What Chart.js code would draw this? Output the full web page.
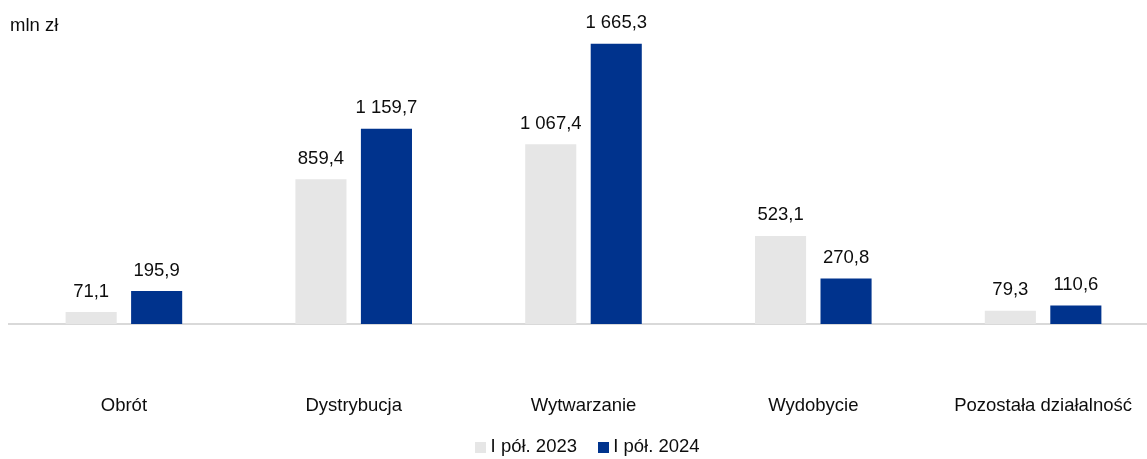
<!DOCTYPE html>
<html>
<head>
<meta charset="utf-8">
<script src="https://cdn.jsdelivr.net/npm/chart.js@4.4.1/dist/chart.umd.min.js"></script>
<style>
  html, body { margin: 0; padding: 0; background: #fff; overflow: hidden; }
  canvas { display: block; }
</style>
</head>
<body>
<canvas id="chart" width="1158" height="459"></canvas>
<script>
const categories = ["Obrót", "Dystrybucja", "Wytwarzanie", "Wydobycie", "Pozostała działalność"];
const series2023 = [71.1, 859.4, 1067.4, 523.1, 79.3];
const series2024 = [195.9, 1159.7, 1665.3, 270.8, 110.6];
const seriesLabels = ["I pół. 2023", "I pół. 2024"];
const seriesColors = ["#E6E6E6", "#00338D"];
const unitLabel = "mln zł";

const FONT = "'Liberation Sans', Arial, sans-serif";
const FS = 18.5;
const TXT = "#0d0d0d";

// Polish number format: "1 665,3"
const fmt = v => {
  const [i, d] = v.toFixed(1).split(".");
  return i.replace(/\B(?=(\d{3})+(?!\d))/g, " ") + "," + d;
};

// small square swatches for the legend (sits closer to the text than the default box)
const swatches = seriesColors.map(c => {
  const cv = document.createElement("canvas");
  cv.width = 11; cv.height = 11;
  const g = cv.getContext("2d");
  g.fillStyle = c;
  g.fillRect(0, 0, 11, 11);
  return cv;
});

// value labels above bars + unit label in the corner
const labelsPlugin = {
  id: "labelsPlugin",
  afterLayout(chart) {
    // nudge the legend: a bit right, and up over the spare room under the tick labels
    const lg = chart.legend;
    lg.left += 6;
    lg.right += 6;
    lg.top -= 20;
    lg.bottom -= 20;
  },
  afterDatasetsDraw(chart) {
    const ctx = chart.ctx;
    ctx.save();
    ctx.font = FS + "px " + FONT;
    ctx.fillStyle = TXT;
    ctx.textAlign = "center";
    ctx.textBaseline = "alphabetic";
    chart.data.datasets.forEach((ds, i) => {
      chart.getDatasetMeta(i).data.forEach((bar, j) => {
        ctx.fillText(fmt(ds.data[j]), bar.x, bar.y - 15.5);
      });
    });
    ctx.textAlign = "left";
    ctx.fillText(unitLabel, 10, 31);
    ctx.restore();
  }
};

new Chart(document.getElementById("chart").getContext("2d"), {
  type: "bar",
  data: {
    labels: categories,
    datasets: [
      { label: seriesLabels[0], data: series2023, backgroundColor: seriesColors[0] },
      { label: seriesLabels[1], data: series2024, backgroundColor: seriesColors[1] },
    ],
  },
  options: {
    responsive: false,
    animation: false,
    categoryPercentage: 0.57,
    barPercentage: 0.78,
    layout: { padding: { left: 9, top: 21, right: 0, bottom: -27.25 } },
    plugins: {
      tooltip: { enabled: false },
      legend: {
        position: "bottom",
        labels: {
          font: { family: FONT, size: FS },
          color: TXT,
          usePointStyle: true,
          boxWidth: 2,
          boxHeight: 11,
          padding: 25,
          generateLabels: chart =>
            Chart.defaults.plugins.legend.labels.generateLabels(chart)
              .map((item, i) => ({ ...item, pointStyle: swatches[i] })),
        },
      },
    },
    scales: {
      x: {
        grid: { display: false },
        border: { color: "#D9D9D9", width: 2 },
        ticks: {
          font: { family: FONT, size: FS },
          color: TXT,
          padding: 63,
          maxRotation: 0,
        },
        afterFit(scale) {
          scale.paddingLeft = 0;
          scale.paddingRight = 0;
          scale.height = 108.75;
        },
      },
      y: {
        display: false,
        min: 0,
        max: 1800,
      },
    },
  },
  plugins: [labelsPlugin],
});
</script>
</body>
</html>
